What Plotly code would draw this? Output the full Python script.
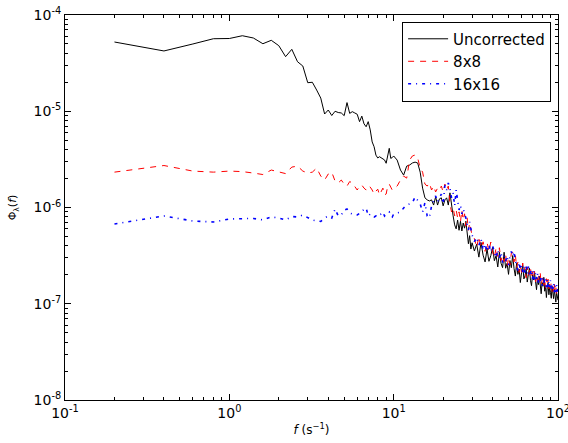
import numpy as np
import plotly.graph_objects as go

# frequency grid (Hz): 0.2 Hz steps to 10, 0.5 Hz steps to 30, 1 Hz steps to 100
freq = list(np.round(np.arange(0.2, 10.01, 0.2), 1)) + \
       list(np.round(np.arange(10.5, 30.01, 0.5), 1)) + \
       list(np.arange(31, 101, 1).astype(float))

uncorrected = [
    # 0.2 .. 10 (step 0.2)
    5.24e-5, 4.23e-5, 5.0e-5, 5.67e-5, 5.7e-5, 6.09e-5, 5.77e-5, 5.03e-5, 5.46e-5, 4.8e-5,
    3.69e-5, 4.4e-5, 3.27e-5, 2.95e-5, 1.98e-5, 2.0e-5, 1.66e-5, 1.37e-5, 9.36e-6, 1.03e-5,
    9.03e-6, 1.0e-5, 9.7e-6, 9.6e-6, 9.0e-6, 1.23e-5, 9.5e-6, 9.9e-6, 9.6e-6, 9.3e-6,
    7.8e-6, 8.9e-6, 7.4e-6, 6.9e-6, 7.8e-6, 6.4e-6, 4.8e-6, 4.28e-6, 3.5e-6, 3.27e-6,
    3.37e-6, 3.27e-6, 3.2e-6, 3.12e-6, 2.88e-6, 3.4e-6, 4.12e-6, 3.24e-6, 3.3e-6, 3.43e-6,
    # 10.5 .. 30 (step 0.5)
    3.11e-6, 2.45e-6, 2.17e-6, 2.69e-6, 2.76e-6, 2.90e-6, 2.96e-6, 2.90e-6, 2.33e-6, 1.59e-6,
    1.26e-6, 1.20e-6, 1.17e-6, 1.20e-6, 1.06e-6, 1.29e-6, 1.06e-6, 1.23e-6, 1.26e-6, 1.04e-6,
    1.20e-6, 1.26e-6, 1.06e-6, 1.42e-6, 1.02e-6, 8.2e-7, 6.6e-7, 6.0e-7, 7.4e-7, 5.8e-7,
    7.2e-7, 5.7e-7, 6.9e-7, 6.1e-7, 7.2e-7, 5.6e-7, 4.2e-7, 5.1e-7, 3.7e-7, 4.3e-7,
    # 31 .. 100 (step 1)
    3.53e-7, 4.16e-7, 3.05e-7, 4.33e-7, 3.2e-7, 2.72e-7, 3.7e-7, 2.76e-7, 3.16e-7, 3.85e-7,
    2.8e-7, 3.16e-7, 2.41e-7, 3.43e-7, 2.64e-7, 2.37e-7, 3.43e-7, 2.34e-7, 2.63e-7, 2.02e-7,
    2.81e-7, 2.37e-7, 3.17e-7, 2.33e-7, 1.94e-7, 2.63e-7, 2.02e-7, 2.29e-7, 1.66e-7, 2.1e-7,
    2.53e-7, 1.81e-7, 1.95e-7, 2.3e-7, 1.68e-7, 2.01e-7, 2.34e-7, 1.75e-7, 1.54e-7, 2.0e-7,
    1.77e-7, 2.1e-7, 1.54e-7, 1.4e-7, 1.83e-7, 1.58e-7, 1.93e-7, 1.47e-7, 1.27e-7, 1.66e-7,
    1.52e-7, 1.88e-7, 1.35e-7, 1.54e-7, 1.16e-7, 1.47e-7, 1.64e-7, 1.24e-7, 1.48e-7, 1.31e-7,
    1.14e-7, 1.52e-7, 1.3e-7, 1.13e-7, 1.41e-7, 1.2e-7, 1.04e-7, 1.32e-7, 1.13e-7, 1.09e-7,
]

corr_8x8 = [
    # 0.2 .. 10
    2.33e-6, 2.73e-6, 2.39e-6, 2.33e-6, 2.39e-6, 2.36e-6, 2.28e-6, 2.2e-6, 2.45e-6, 2.33e-6,
    2.25e-6, 2.63e-6, 2.69e-6, 2.39e-6, 2.28e-6, 2.33e-6, 2.57e-6, 2.12e-6, 1.93e-6, 2.23e-6,
    2.33e-6, 1.88e-6, 1.80e-6, 1.93e-6, 1.75e-6, 1.67e-6, 1.86e-6, 1.80e-6, 1.63e-6, 1.52e-6,
    1.67e-6, 1.71e-6, 1.59e-6, 1.52e-6, 1.67e-6, 1.63e-6, 1.52e-6, 1.38e-6, 1.48e-6, 1.55e-6,
    1.35e-6, 1.45e-6, 1.59e-6, 1.35e-6, 1.38e-6, 1.67e-6, 1.75e-6, 1.63e-6, 1.52e-6, 1.55e-6,
    # 10.5 .. 30
    1.67e-6, 1.93e-6, 2.12e-6, 2.02e-6, 3.11e-6, 3.43e-6, 3.51e-6, 3.27e-6, 2.57e-6, 2.33e-6,
    1.75e-6, 1.67e-6, 1.80e-6, 1.52e-6, 1.67e-6, 1.45e-6, 1.59e-6, 1.52e-6, 1.67e-6, 1.45e-6,
    1.75e-6, 1.52e-6, 1.67e-6, 1.09e-6, 8.98e-7, 9.9e-7, 8.2e-7, 9.4e-7, 7.8e-7, 9.0e-7,
    7.1e-7, 9.4e-7, 7.4e-7, 8.6e-7, 6.4e-7, 7.8e-7, 5.8e-7, 6.9e-7, 5.6e-7, 5.1e-7,
    # 31 .. 100
    4.75e-7, 3.85e-7, 5.0e-7, 3.79e-7, 4.4e-7, 3.5e-7, 4.35e-7, 3.5e-7, 4.38e-7, 3.43e-7,
    3.0e-7, 3.83e-7, 3.1e-7, 3.82e-7, 2.8e-7, 3.19e-7, 2.74e-7, 3.27e-7, 2.43e-7, 3.02e-7,
    2.53e-7, 3.36e-7, 3.43e-7, 2.72e-7, 3.26e-7, 2.38e-7, 2.71e-7, 2.12e-7, 2.49e-7, 2.1e-7,
    2.65e-7, 2.15e-7, 2.4e-7, 1.86e-7, 2.41e-7, 1.95e-7, 2.19e-7, 2.43e-7, 1.83e-7, 2.16e-7,
    1.87e-7, 2.17e-7, 1.69e-7, 1.98e-7, 1.72e-7, 2.02e-7, 1.73e-7, 2.06e-7, 1.59e-7, 1.79e-7,
    1.94e-7, 1.57e-7, 1.77e-7, 1.47e-7, 1.82e-7, 1.55e-7, 1.8e-7, 1.43e-7, 1.65e-7, 1.44e-7,
    1.69e-7, 1.34e-7, 1.54e-7, 1.34e-7, 1.59e-7, 1.37e-7, 1.51e-7, 1.26e-7, 1.41e-7, 1.33e-7,
]

corr_16x16 = [
    # 0.2 .. 10
    6.74e-7, 8.16e-7, 7.24e-7, 7.07e-7, 7.6e-7, 7.6e-7, 7.7e-7, 7.42e-7, 7.97e-7, 7.78e-7,
    7.42e-7, 8.06e-7, 7.97e-7, 8.36e-7, 7.78e-7, 7.42e-7, 7.24e-7, 7.16e-7, 7.78e-7, 8.16e-7,
    7.78e-7, 9.65e-7, 8.16e-7, 8.36e-7, 9.42e-7, 9.65e-7, 8.77e-7, 8.56e-7, 8.36e-7, 8.36e-7,
    8.77e-7, 8.98e-7, 9.65e-7, 9.88e-7, 8.16e-7, 8.56e-7, 8.16e-7, 7.97e-7, 8.16e-7, 7.97e-7,
    8.36e-7, 8.56e-7, 8.98e-7, 8.16e-7, 8.56e-7, 8.77e-7, 8.98e-7, 8.16e-7, 7.97e-7, 8.56e-7,
    # 10.5 .. 30
    8.77e-7, 8.98e-7, 9.88e-7, 1.06e-6, 1.09e-6, 1.12e-6, 1.29e-6, 1.17e-6, 1.09e-6, 8.98e-7,
    1.12e-6, 8.16e-7, 7.78e-7, 1.04e-6, 1.20e-6, 1.32e-6, 1.14e-6, 1.26e-6, 1.38e-6, 1.09e-6,
    1.71e-6, 1.52e-6, 1.80e-6, 1.59e-6, 1.26e-6, 1.42e-6, 1.04e-6, 1.52e-6, 1.20e-6, 9.42e-7,
    1.06e-6, 8.56e-7, 9.65e-7, 8.77e-7, 7.78e-7, 6.58e-7, 5.84e-7, 7.07e-7, 6.13e-7, 5.18e-7,
    # 31 .. 100
    4.43e-7, 4.9e-7, 4.03e-7, 4.74e-7, 3.6e-7, 4.2e-7, 3.48e-7, 4.12e-7, 3.45e-7, 4.03e-7,
    3.41e-7, 3.0e-7, 3.65e-7, 3.02e-7, 3.42e-7, 2.68e-7, 3.13e-7, 2.77e-7, 3.15e-7, 2.52e-7,
    3.08e-7, 3.5e-7, 3.12e-7, 3.5e-7, 2.81e-7, 2.55e-7, 2.21e-7, 2.7e-7, 2.25e-7, 2.52e-7,
    2.12e-7, 2.49e-7, 2.0e-7, 2.45e-7, 2.04e-7, 2.44e-7, 1.92e-7, 2.1e-7, 2.27e-7, 1.8e-7,
    2.17e-7, 1.78e-7, 2.07e-7, 1.8e-7, 2.09e-7, 1.66e-7, 1.91e-7, 1.7e-7, 1.95e-7, 1.54e-7,
    1.82e-7, 1.62e-7, 1.89e-7, 1.67e-7, 1.49e-7, 1.79e-7, 1.48e-7, 1.72e-7, 1.49e-7, 1.75e-7,
    1.39e-7, 1.6e-7, 1.43e-7, 1.64e-7, 1.32e-7, 1.53e-7, 1.32e-7, 1.57e-7, 1.34e-7, 1.43e-7,
]

series_names = ["Uncorrected", "8x8", "16x16"]

x_tickvals = [0.1, 1, 10, 100]
x_ticktext = ["10<sup>-1</sup>", "10<sup>0</sup>", "10<sup>1</sup>", "10<sup>2</sup>"]
x_minor = [m * d for d in (0.1, 1, 10) for m in range(2, 10)]
y_tickvals = [1e-8, 1e-7, 1e-6, 1e-5, 1e-4]
y_ticktext = ["10<sup>-8</sup>", "10<sup>-7</sup>", "10<sup>-6</sup>", "10<sup>-5</sup>", "10<sup>-4</sup>"]
y_minor = [m * d for d in (1e-8, 1e-7, 1e-6, 1e-5) for m in range(2, 10)]

FONT = "DejaVu Sans"

fig = go.Figure()
fig.add_trace(go.Scatter(x=freq, y=uncorrected, mode="lines", name=series_names[0],
                         line=dict(color="#000000", width=1)))
fig.add_trace(go.Scatter(x=freq, y=corr_8x8, mode="lines", name=series_names[1],
                         line=dict(color="#ff0000", width=1, dash="6px,6px")))
fig.add_trace(go.Scatter(x=freq, y=corr_16x16, mode="lines", name=series_names[2],
                         line=dict(color="#0000ff", width=1.6, dash="3px,5px,1px,5px")))

axis_common = dict(
    type="log", showline=True, linecolor="black", linewidth=1, mirror="ticks",
    ticks="inside", ticklen=6, tickwidth=1, tickcolor="black",
    showgrid=False, zeroline=False, ticklabeloverflow="allow", automargin=False,
    tickfont=dict(family=FONT, size=14, color="black"),
)

fig.update_xaxes(range=[-1, 2], tickvals=x_tickvals, ticktext=x_ticktext,
                 minor=dict(tickvals=x_minor, ticks="inside", ticklen=3, tickwidth=1,
                            tickcolor="black", showgrid=False),
                 title=dict(text="<i>f</i> (s<sup>−1</sup>)", font=dict(family=FONT, size=12, color="black"),
                            standoff=5),
                 **axis_common)
fig.update_yaxes(range=[-8, -4], tickvals=y_tickvals, ticktext=y_ticktext,
                 minor=dict(tickvals=y_minor, ticks="inside", ticklen=3, tickwidth=1,
                            tickcolor="black", showgrid=False),
                 title=dict(text="Φ<sub>λ</sub>(<i>f</i>)", font=dict(family=FONT, size=11, color="black"),
                            standoff=14),
                 **axis_common)

fig.update_layout(
    width=568, height=443,
    margin=dict(l=65, r=10, t=15, b=43),
    paper_bgcolor="white", plot_bgcolor="white",
    font=dict(family=FONT, color="black"),
    legend=dict(x=0.986, y=0.983, xanchor="right", yanchor="top",
                bgcolor="white", bordercolor="black", borderwidth=1,
                font=dict(family=FONT, size=15, color="black"),
                tracegroupgap=0, itemwidth=40),
    showlegend=True,
)

fig.write_html("out.html")
